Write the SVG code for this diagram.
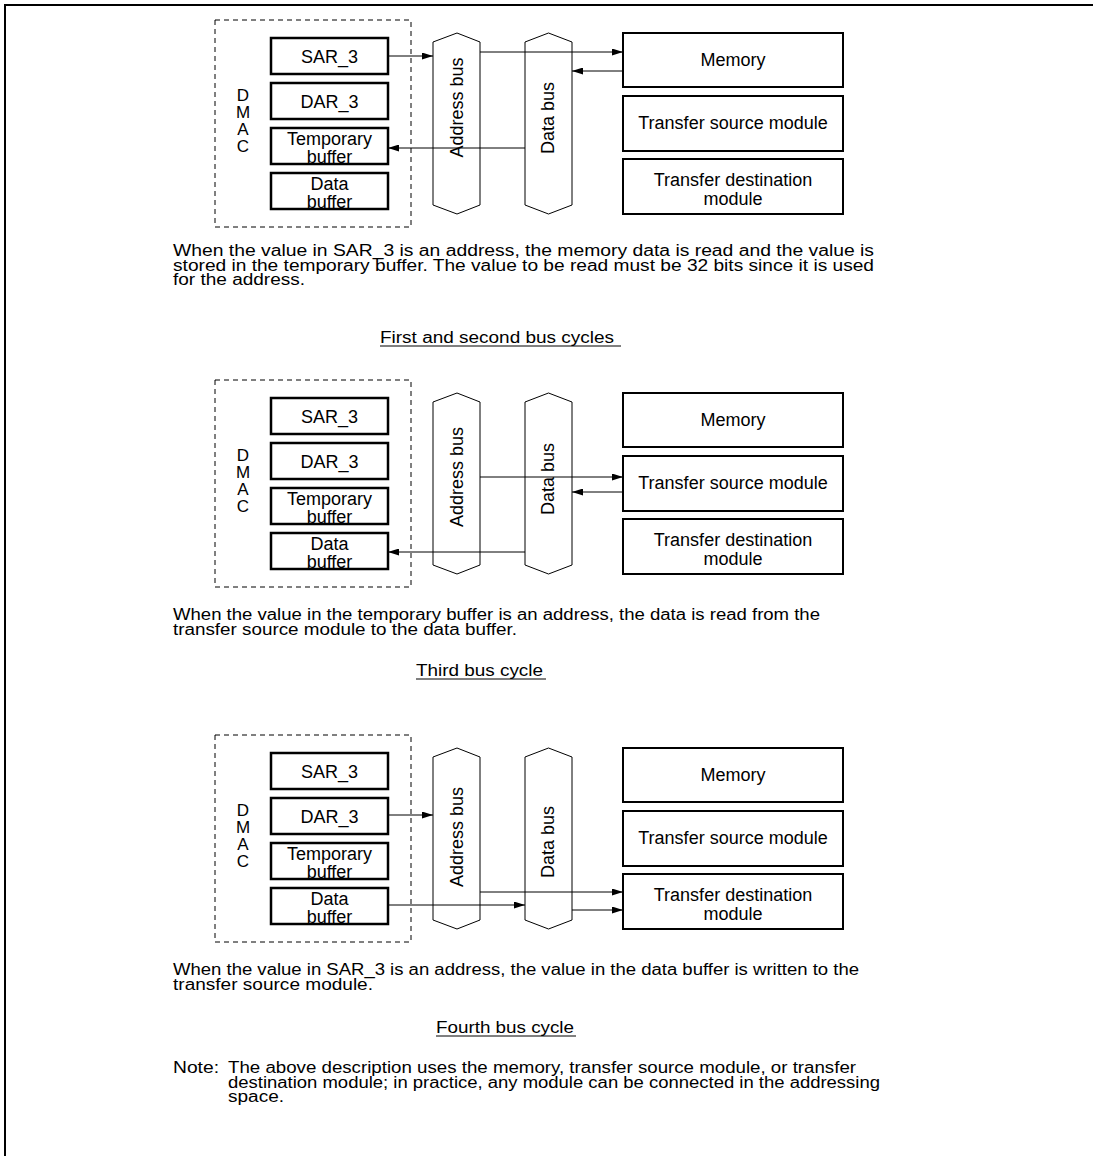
<svg xmlns="http://www.w3.org/2000/svg" width="1093" height="1156" viewBox="0 0 1093 1156">
<style>
text{font-family:"Liberation Sans",Arial,Helvetica,sans-serif;fill:#000}
.lbl{font-size:18px;text-anchor:middle}
.dm{font-size:17px;text-anchor:middle}
.desc{font-size:16px}
.reg{fill:#fff;stroke:#000;stroke-width:2.5}
.mod{fill:#fff;stroke:#000;stroke-width:2}
.bus{fill:#fff;stroke:#000;stroke-width:1}
.dash{fill:none;stroke:#000;stroke-width:1;stroke-dasharray:5,4}
.conn line{stroke:#000;stroke-width:1;marker-end:url(#ah)}
.ul{stroke:#000;stroke-width:1}
</style>
<defs>
<marker id="ah" markerUnits="userSpaceOnUse" markerWidth="11" markerHeight="7" refX="11" refY="3.5" orient="auto">
<path d="M0,0 L11,3.5 L0,7 z" fill="#000"/>
</marker>
</defs>
<rect width="1093" height="1156" fill="#fff"/>
<path d="M5,1156 V5 H1093" fill="none" stroke="#000" stroke-width="2"/>

<!-- Panel 1 -->
<g id="p1">
<g id="p1-dmac"><rect class="dash" x="215" y="20" width="196" height="207"/>
<text class="dm" x="243" y="101">D</text><text class="dm" x="243" y="118">M</text><text class="dm" x="243" y="135">A</text><text class="dm" x="243" y="152">C</text></g>
<g id="p1-sar"><rect class="reg" x="271" y="38" width="117" height="36"/><text class="lbl" x="329.5" y="63">SAR_3</text></g>
<g id="p1-dar"><rect class="reg" x="271" y="83" width="117" height="36"/><text class="lbl" x="329.5" y="108">DAR_3</text></g>
<g id="p1-tmp"><rect class="reg" x="271" y="128" width="117" height="36"/><text class="lbl" x="329.5" y="145">Temporary</text><text class="lbl" x="329.5" y="163">buffer</text></g>
<g id="p1-dbuf"><rect class="reg" x="271" y="173" width="117" height="36"/><text class="lbl" x="329.5" y="190">Data</text><text class="lbl" x="329.5" y="208">buffer</text></g>
<g id="p1-abus"><polygon class="bus" points="433,42 457,33 480,42 480,205 457,214 433,205"/><text class="lbl" transform="translate(463,107.5) rotate(-90)">Address bus</text></g>
<g id="p1-dbus"><polygon class="bus" points="525,42 548.5,33 572,42 572,205 548.5,214 525,205"/><text class="lbl" transform="translate(554,118) rotate(-90)">Data bus</text></g>
<g id="p1-mem"><rect class="mod" x="623" y="33" width="220" height="54"/><text class="lbl" x="733" y="66">Memory</text></g>
<g id="p1-src"><rect class="mod" x="623" y="96" width="220" height="55"/><text class="lbl" x="733" y="129">Transfer source module</text></g>
<g id="p1-dst"><rect class="mod" x="623" y="159" width="220" height="55"/><text class="lbl" x="733" y="186">Transfer destination</text><text class="lbl" x="733" y="205">module</text></g>
<g class="conn" id="p1-conn">
<line x1="388" y1="56" x2="433" y2="56"/>
<line x1="480" y1="52" x2="623" y2="52"/>
<line x1="623" y1="71" x2="572" y2="71"/>
<line x1="525" y1="148" x2="388" y2="148"/>
</g>
<g id="p1-text">
<text class="desc" x="173" y="256" textLength="701" lengthAdjust="spacingAndGlyphs">When the value in SAR_3 is an address, the memory data is read and the value is</text>
<text class="desc" x="173" y="270.5" textLength="701" lengthAdjust="spacingAndGlyphs">stored in the temporary buffer.  The value to be read must be 32 bits since it is used</text>
<text class="desc" x="173" y="285" textLength="132" lengthAdjust="spacingAndGlyphs">for the address.</text>
<text class="desc" x="380" y="343" textLength="234" lengthAdjust="spacingAndGlyphs">First and second bus cycles</text>
<line class="ul" x1="380" y1="346" x2="621" y2="346"/>
</g>
</g>

<!-- Panel 2 -->
<g id="p2">
<g id="p2-dmac"><rect class="dash" x="215" y="380" width="196" height="207"/>
<text class="dm" x="243" y="461">D</text><text class="dm" x="243" y="478">M</text><text class="dm" x="243" y="495">A</text><text class="dm" x="243" y="512">C</text></g>
<g id="p2-sar"><rect class="reg" x="271" y="398" width="117" height="36"/><text class="lbl" x="329.5" y="423">SAR_3</text></g>
<g id="p2-dar"><rect class="reg" x="271" y="443" width="117" height="36"/><text class="lbl" x="329.5" y="468">DAR_3</text></g>
<g id="p2-tmp"><rect class="reg" x="271" y="488" width="117" height="36"/><text class="lbl" x="329.5" y="505">Temporary</text><text class="lbl" x="329.5" y="523">buffer</text></g>
<g id="p2-dbuf"><rect class="reg" x="271" y="533" width="117" height="36"/><text class="lbl" x="329.5" y="550">Data</text><text class="lbl" x="329.5" y="568">buffer</text></g>
<g id="p2-abus"><polygon class="bus" points="433,402 457,393 480,402 480,565 457,574 433,565"/><text class="lbl" transform="translate(463,477) rotate(-90)">Address bus</text></g>
<g id="p2-dbus"><polygon class="bus" points="525,402 548.5,393 572,402 572,565 548.5,574 525,565"/><text class="lbl" transform="translate(554,479) rotate(-90)">Data bus</text></g>
<g id="p2-mem"><rect class="mod" x="623" y="393" width="220" height="54"/><text class="lbl" x="733" y="426">Memory</text></g>
<g id="p2-src"><rect class="mod" x="623" y="456" width="220" height="55"/><text class="lbl" x="733" y="489">Transfer source module</text></g>
<g id="p2-dst"><rect class="mod" x="623" y="519" width="220" height="55"/><text class="lbl" x="733" y="546">Transfer destination</text><text class="lbl" x="733" y="565">module</text></g>
<g class="conn" id="p2-conn">
<line x1="480" y1="477" x2="623" y2="477"/>
<line x1="623" y1="492" x2="572" y2="492"/>
<line x1="525" y1="552" x2="388" y2="552"/>
</g>
<g id="p2-text">
<text class="desc" x="173" y="620" textLength="647" lengthAdjust="spacingAndGlyphs">When the value in the temporary buffer is an address, the data is read from the</text>
<text class="desc" x="173" y="634.5" textLength="344" lengthAdjust="spacingAndGlyphs">transfer source module to the data buffer.</text>
<text class="desc" x="416" y="676" textLength="127" lengthAdjust="spacingAndGlyphs">Third bus cycle</text>
<line class="ul" x1="416" y1="679" x2="546" y2="679"/>
</g>
</g>

<!-- Panel 3 -->
<g id="p3">
<g id="p3-dmac"><rect class="dash" x="215" y="735" width="196" height="207"/>
<text class="dm" x="243" y="816">D</text><text class="dm" x="243" y="833">M</text><text class="dm" x="243" y="850">A</text><text class="dm" x="243" y="867">C</text></g>
<g id="p3-sar"><rect class="reg" x="271" y="753" width="117" height="36"/><text class="lbl" x="329.5" y="778">SAR_3</text></g>
<g id="p3-dar"><rect class="reg" x="271" y="798" width="117" height="36"/><text class="lbl" x="329.5" y="823">DAR_3</text></g>
<g id="p3-tmp"><rect class="reg" x="271" y="843" width="117" height="36"/><text class="lbl" x="329.5" y="860">Temporary</text><text class="lbl" x="329.5" y="878">buffer</text></g>
<g id="p3-dbuf"><rect class="reg" x="271" y="888" width="117" height="36"/><text class="lbl" x="329.5" y="905">Data</text><text class="lbl" x="329.5" y="923">buffer</text></g>
<g id="p3-abus"><polygon class="bus" points="433,757 457,748 480,757 480,920 457,929 433,920"/><text class="lbl" transform="translate(463,837) rotate(-90)">Address bus</text></g>
<g id="p3-dbus"><polygon class="bus" points="525,757 548.5,748 572,757 572,920 548.5,929 525,920"/><text class="lbl" transform="translate(554,842) rotate(-90)">Data bus</text></g>
<g id="p3-mem"><rect class="mod" x="623" y="748" width="220" height="54"/><text class="lbl" x="733" y="781">Memory</text></g>
<g id="p3-src"><rect class="mod" x="623" y="811" width="220" height="55"/><text class="lbl" x="733" y="844">Transfer source module</text></g>
<g id="p3-dst"><rect class="mod" x="623" y="874" width="220" height="55"/><text class="lbl" x="733" y="901">Transfer destination</text><text class="lbl" x="733" y="920">module</text></g>
<g class="conn" id="p3-conn">
<line x1="388" y1="815" x2="433" y2="815"/>
<line x1="480" y1="892" x2="623" y2="892"/>
<line x1="388" y1="905" x2="525" y2="905"/>
<line x1="572" y1="910" x2="623" y2="910"/>
</g>
<g id="p3-text">
<text class="desc" x="173" y="975" textLength="686" lengthAdjust="spacingAndGlyphs">When the value in SAR_3 is an address, the value in the data buffer is written to the</text>
<text class="desc" x="173" y="989.5" textLength="200" lengthAdjust="spacingAndGlyphs">transfer source module.</text>
<text class="desc" x="436" y="1033" textLength="138" lengthAdjust="spacingAndGlyphs">Fourth bus cycle</text>
<line class="ul" x1="436" y1="1036" x2="576" y2="1036"/>
</g>
</g>

<g id="note">
<text class="desc" x="173" y="1073" textLength="46" lengthAdjust="spacingAndGlyphs">Note:</text>
<text class="desc" x="228" y="1073" textLength="628" lengthAdjust="spacingAndGlyphs">The above description uses the memory, transfer source module, or transfer</text>
<text class="desc" x="228" y="1087.5" textLength="652" lengthAdjust="spacingAndGlyphs">destination module; in practice, any module can be connected in the addressing</text>
<text class="desc" x="228" y="1102" textLength="56" lengthAdjust="spacingAndGlyphs">space.</text>
</g>
</svg>
